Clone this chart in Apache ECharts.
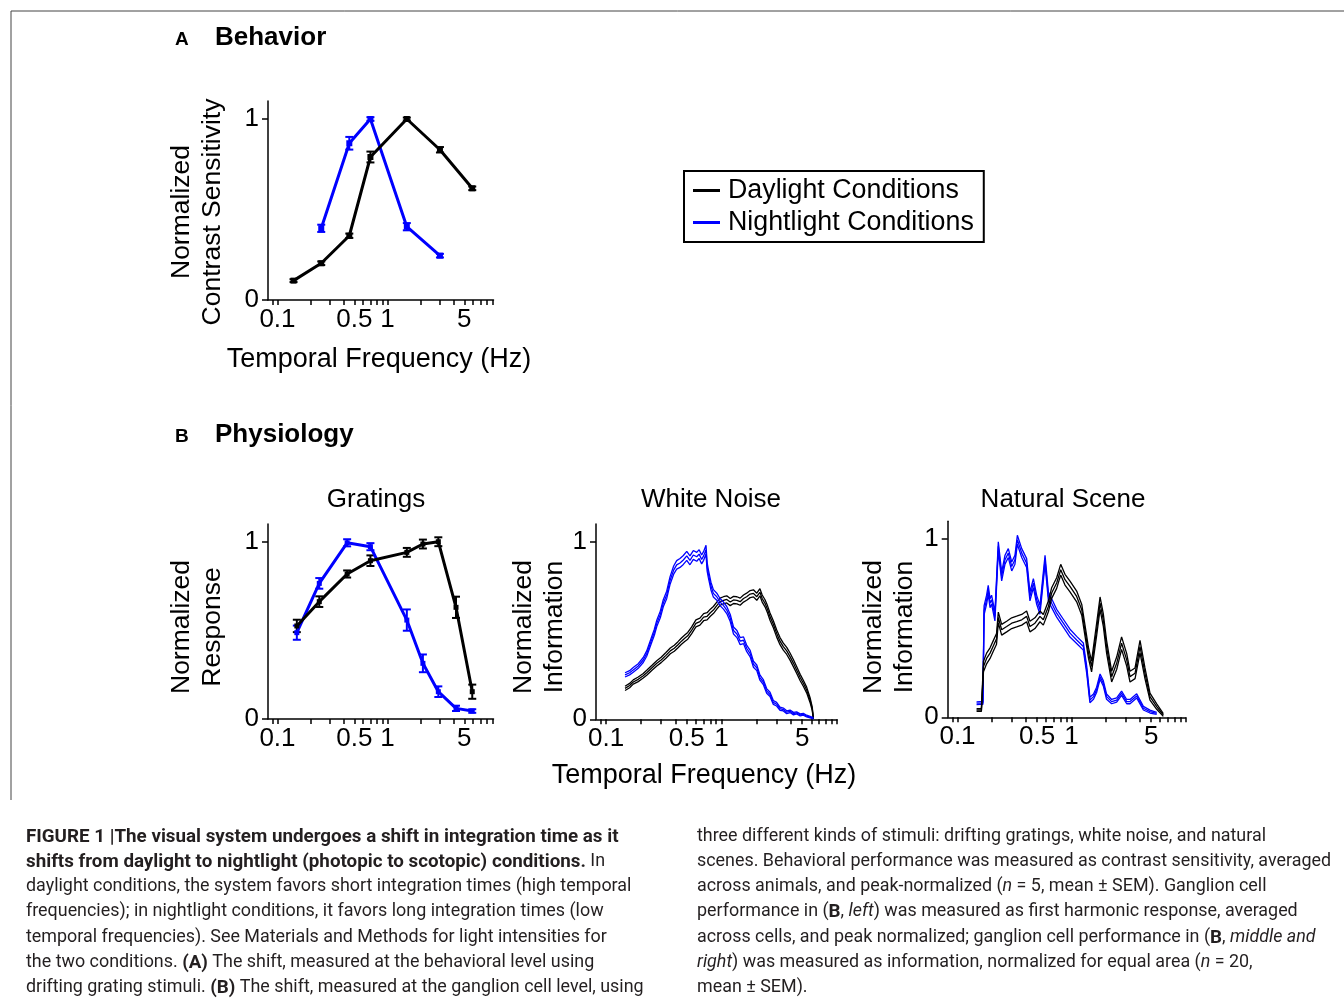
<!DOCTYPE html>
<html>
<head>
<meta charset="utf-8">
<title>Figure 1</title>
<script src="https://cdn.jsdelivr.net/npm/echarts@6/dist/echarts.min.js"></script>
<style>
  html, body { margin: 0; padding: 0; background: #fff; }
  #chart { width: 1344px; height: 1006px; }
</style>
</head>
<body>
<div id="chart"></div>
<script>
// ---- axis ticks (Hz) ----
var tickHz = [0.09, 0.1, 0.2, 0.3, 0.4, 0.5, 0.6, 0.7, 0.8, 0.9, 1, 2, 3, 4, 5, 6, 7, 8, 9, 10];
var labelHz = [0.1, 0.5, 1, 5];
var labelText = ['0.1', '0.5', '1', '5'];
var yTicks = [0, 1];

// ---- A: behavior, contrast sensitivity ----
var behDayHz = [0.14, 0.25, 0.45, 0.7, 1.5, 3.0, 5.9];
var behDay = [0.107, 0.203, 0.355, 0.79, 1.0, 0.83, 0.617];
var behDayErr = [0.008, 0.01, 0.012, 0.03, 0.008, 0.015, 0.01];
var behNightHz = [0.25, 0.45, 0.7, 1.5, 3.0];
var behNight = [0.396, 0.866, 1.0, 0.405, 0.245];
var behNightErr = [0.02, 0.035, 0.01, 0.02, 0.01];

// ---- B left: gratings, first harmonic response ----
var gratHz = [0.15, 0.24, 0.43, 0.7, 1.5, 2.1, 2.9, 4.2, 5.9];
var gratDay = [0.525, 0.662, 0.818, 0.893, 0.94, 0.987, 1.0, 0.63, 0.154];
var gratDayErr = [0.035, 0.03, 0.02, 0.03, 0.025, 0.025, 0.025, 0.06, 0.04];
var gratNight = [0.487, 0.765, 0.994, 0.972, 0.558, 0.314, 0.154, 0.06, 0.045];
var gratNightErr = [0.04, 0.03, 0.02, 0.02, 0.06, 0.05, 0.03, 0.015, 0.01];

// ---- B middle: white noise, information (mean, SEM) ----
var wnNightHz = [0.146, 0.16, 0.172, 0.19, 0.21, 0.225, 0.248, 0.262, 0.275, 0.295,
  0.313, 0.335, 0.358, 0.385, 0.409, 0.437, 0.467, 0.5, 0.533, 0.57,
  0.61, 0.64, 0.673, 0.7, 0.734, 0.75, 0.769, 0.81, 0.85, 0.91,
  0.971, 1.04, 1.11, 1.19, 1.27, 1.36, 1.45, 1.55, 1.65, 1.77,
  1.89, 2.02, 2.15, 2.3, 2.46, 2.63, 2.81, 3.0, 3.21, 3.43,
  3.67, 3.92, 4.2, 4.47, 4.8, 5.11, 5.46, 5.84, 6.24];
var wnNight = [0.25, 0.262, 0.278, 0.30, 0.334, 0.37, 0.447, 0.49, 0.54, 0.59,
  0.653, 0.70, 0.78, 0.84, 0.869, 0.88, 0.897, 0.92, 0.895, 0.925,
  0.915, 0.93, 0.90, 0.92, 0.955, 0.86, 0.82, 0.75, 0.709, 0.69,
  0.66, 0.64, 0.615, 0.57, 0.50, 0.48, 0.44, 0.445, 0.40, 0.37,
  0.31, 0.29, 0.235, 0.21, 0.16, 0.14, 0.095, 0.085, 0.06, 0.055,
  0.04, 0.045, 0.032, 0.036, 0.025, 0.028, 0.018, 0.012, 0.006];
var wnNightSem = [0.012, 0.012, 0.013, 0.013, 0.014, 0.015, 0.016, 0.017, 0.018, 0.019,
  0.02, 0.021, 0.022, 0.023, 0.024, 0.025, 0.025, 0.025, 0.025, 0.025,
  0.025, 0.025, 0.025, 0.025, 0.025, 0.024, 0.023, 0.022, 0.021, 0.02,
  0.02, 0.02, 0.02, 0.02, 0.02, 0.02, 0.02, 0.019, 0.018, 0.018,
  0.017, 0.016, 0.015, 0.014, 0.013, 0.012, 0.011, 0.01, 0.009, 0.008,
  0.008, 0.007, 0.007, 0.006, 0.006, 0.005, 0.005, 0.004, 0.003];
var wnDayHz = [0.146, 0.16, 0.172, 0.19, 0.21, 0.225, 0.25, 0.275, 0.3, 0.33,
  0.36, 0.39, 0.42, 0.45, 0.48, 0.51, 0.55, 0.6, 0.65, 0.7,
  0.75, 0.8, 0.85, 0.91, 0.97, 1.04, 1.11, 1.19, 1.27, 1.36,
  1.45, 1.55, 1.65, 1.77, 1.89, 2.02, 2.15, 2.25, 2.38, 2.5,
  2.63, 2.81, 3.0, 3.21, 3.43, 3.67, 3.92, 4.2, 4.47, 4.8,
  5.11, 5.46, 5.84, 6.1, 6.24];
var wnDay = [0.174, 0.19, 0.21, 0.225, 0.245, 0.262, 0.29, 0.315, 0.334, 0.36,
  0.385, 0.40, 0.42, 0.44, 0.456, 0.47, 0.50, 0.54, 0.55, 0.575,
  0.58, 0.60, 0.615, 0.64, 0.662, 0.67, 0.675, 0.66, 0.672, 0.67,
  0.662, 0.68, 0.69, 0.705, 0.709, 0.69, 0.715, 0.68, 0.653, 0.62,
  0.578, 0.535, 0.484, 0.44, 0.409, 0.385, 0.353, 0.315, 0.278, 0.235,
  0.203, 0.165, 0.109, 0.06, 0.006];
var wnDaySem = [0.012, 0.012, 0.012, 0.013, 0.013, 0.014, 0.014, 0.015, 0.015, 0.016,
  0.016, 0.017, 0.017, 0.018, 0.018, 0.019, 0.019, 0.02, 0.02, 0.02,
  0.02, 0.02, 0.02, 0.02, 0.02, 0.02, 0.02, 0.02, 0.02, 0.02,
  0.02, 0.02, 0.02, 0.02, 0.02, 0.02, 0.02, 0.02, 0.02, 0.02,
  0.02, 0.02, 0.02, 0.02, 0.02, 0.02, 0.02, 0.02, 0.019, 0.018,
  0.017, 0.016, 0.014, 0.01, 0.005];

// ---- B right: natural scene, information (mean, SEM) ----
var nsNightHz = [0.147, 0.158, 0.167, 0.171, 0.18, 0.186, 0.193, 0.199, 0.213, 0.228,
  0.244, 0.261, 0.279, 0.299, 0.319, 0.335, 0.366, 0.404, 0.432, 0.463,
  0.495, 0.529, 0.586, 0.627, 0.67, 0.741, 0.848, 0.97, 1.11, 1.27,
  1.36, 1.45, 1.56, 1.66, 1.78, 1.9, 2.03, 2.25, 2.49, 2.75,
  3.05, 3.26, 3.73, 4.27, 4.88, 5.59];
var nsNight = [0.079, 0.08, 0.08, 0.60, 0.66, 0.715, 0.64, 0.66, 0.566, 0.959,
  0.79, 0.884, 0.921, 0.846, 0.884, 0.996, 0.921, 0.865, 0.678, 0.753,
  0.659, 0.603, 0.884, 0.678, 0.64, 0.584, 0.528, 0.472, 0.434, 0.397,
  0.266, 0.097, 0.116, 0.154, 0.228, 0.191, 0.116, 0.088, 0.097, 0.135,
  0.088, 0.088, 0.12, 0.051, 0.032, 0.022];
var nsNightSem = [0.008, 0.008, 0.008, 0.025, 0.025, 0.025, 0.025, 0.025, 0.025, 0.025,
  0.025, 0.025, 0.025, 0.025, 0.025, 0.025, 0.025, 0.025, 0.025, 0.025,
  0.025, 0.025, 0.025, 0.025, 0.025, 0.022, 0.022, 0.022, 0.02, 0.02,
  0.02, 0.015, 0.015, 0.015, 0.015, 0.015, 0.015, 0.012, 0.012, 0.012,
  0.012, 0.012, 0.012, 0.01, 0.008, 0.006];
var nsDayHz = [0.147, 0.162, 0.169, 0.18, 0.193, 0.206, 0.22, 0.228, 0.244, 0.27,
  0.299, 0.33, 0.366, 0.404, 0.432, 0.478, 0.529, 0.566, 0.627, 0.67,
  0.741, 0.804, 0.877, 0.97, 1.11, 1.23, 1.31, 1.41, 1.5, 1.66,
  1.78, 1.9, 2.03, 2.25, 2.49, 2.75, 3.05, 3.26, 3.61, 3.99,
  4.41, 4.88, 5.59, 6.39];
var nsDay = [0.041, 0.041, 0.285, 0.33, 0.36, 0.40, 0.44, 0.56, 0.491, 0.509,
  0.528, 0.537, 0.547, 0.566, 0.509, 0.528, 0.566, 0.547, 0.622, 0.697,
  0.753, 0.828, 0.772, 0.734, 0.678, 0.603, 0.491, 0.36, 0.285, 0.491,
  0.64, 0.547, 0.397, 0.228, 0.303, 0.416, 0.322, 0.228, 0.247, 0.397,
  0.247, 0.116, 0.06, 0.013];
var nsDaySem = [0.008, 0.008, 0.03, 0.03, 0.03, 0.03, 0.03, 0.03, 0.03, 0.03,
  0.03, 0.03, 0.03, 0.03, 0.03, 0.03, 0.03, 0.03, 0.03, 0.03,
  0.03, 0.03, 0.03, 0.03, 0.03, 0.03, 0.03, 0.03, 0.03, 0.035,
  0.035, 0.035, 0.035, 0.03, 0.035, 0.035, 0.035, 0.03, 0.03, 0.035,
  0.03, 0.02, 0.015, 0.008];

// ---- caption lines ----
var captionLeft = [
  '{b|FIGURE 1 |The visual system undergoes a shift in integration time as it}',
  '{b|shifts from daylight to nightlight (photopic to scotopic) conditions.} In',
  'daylight conditions, the system favors short integration times (high temporal',
  'frequencies); in nightlight conditions, it favors long integration times (low',
  'temporal frequencies). See Materials and Methods for light intensities for',
  'the two conditions. {b|(A)} The shift, measured at the behavioral level using',
  'drifting grating stimuli. {b|(B)} The shift, measured at the ganglion cell level, using'
];
var captionRight = [
  'three different kinds of stimuli: drifting gratings, white noise, and natural',
  'scenes. Behavioral performance was measured as contrast sensitivity, averaged',
  'across animals, and peak-normalized ({i|n} = 5, mean \u00b1 SEM). Ganglion cell',
  'performance in ({b|B}, {i|left}) was measured as first harmonic response, averaged',
  'across cells, and peak normalized; ganglion cell performance in ({b|B}, {i|middle and}',
  '{i|right}) was measured as information, normalized for equal area ({i|n} = 20,',
  'mean \u00b1 SEM).'
];

var BLACK = '#000000';
var BLUE = '#0000ff';
var FONT = '"Liberation Sans", Arial, Helvetica, sans-serif';
var CAP_FONT = 'Roboto, "Liberation Sans", sans-serif';

function lg(f) { return Math.log10(f); }

function labelFor(v) {
  for (var i = 0; i < labelHz.length; i++) {
    if (Math.abs(lg(labelHz[i]) - v) < 1e-3) return labelText[i];
  }
  return '';
}

function xAx(gi, min, max) {
  return {
    type: 'value', gridIndex: gi, min: min, max: max,
    axisLine: { show: true, onZero: false, lineStyle: { color: BLACK, width: 1.5 } },
    axisTick: {
      show: true, length: 5, lineStyle: { color: BLACK, width: 1.5 },
      customValues: tickHz.map(lg).filter(function (v) { return v >= min && v <= max; })
    },
    axisLabel: {
      show: true, customValues: labelHz.map(lg), formatter: labelFor,
      fontSize: 26, fontFamily: FONT, color: BLACK, margin: 7
    },
    splitLine: { show: false }
  };
}

function yAx(gi) {
  return {
    type: 'value', gridIndex: gi, min: 0, max: 1.1,
    axisLine: { show: true, onZero: false, lineStyle: { color: BLACK, width: 1.5 } },
    axisTick: { show: true, length: 6, customValues: yTicks, lineStyle: { color: BLACK, width: 1.5 } },
    axisLabel: {
      show: true, customValues: yTicks, formatter: function (v) { return String(Math.round(v)); },
      fontSize: 26, fontFamily: FONT, color: BLACK, margin: 9
    },
    splitLine: { show: false }
  };
}

function markLine(gi, name, hz, vals, color, size) {
  return {
    type: 'line', name: name, xAxisIndex: gi, yAxisIndex: gi,
    data: hz.map(function (f, i) { return [lg(f), vals[i]]; }),
    symbol: 'rect', symbolSize: size, showSymbol: true,
    lineStyle: { color: color, width: 3 }, itemStyle: { color: color },
    silent: true
  };
}

function errBars(gi, hz, vals, err, color) {
  return {
    type: 'custom', xAxisIndex: gi, yAxisIndex: gi,
    data: hz.map(function (f, i) { return [lg(f), vals[i] - err[i], vals[i] + err[i]]; }),
    encode: { x: 0, y: [1, 2] },
    silent: true,
    renderItem: function (params, api) {
      var x = api.value(0);
      var lo = api.coord([x, api.value(1)]);
      var hi = api.coord([x, api.value(2)]);
      var w = 4;
      var st = { stroke: color, lineWidth: 2 };
      return {
        type: 'group',
        children: [
          { type: 'line', shape: { x1: lo[0], y1: lo[1], x2: hi[0], y2: hi[1] }, style: st },
          { type: 'line', shape: { x1: lo[0] - w, y1: lo[1], x2: lo[0] + w, y2: lo[1] }, style: st },
          { type: 'line', shape: { x1: hi[0] - w, y1: hi[1], x2: hi[0] + w, y2: hi[1] }, style: st }
        ]
      };
    }
  };
}

// mean trace plus the two SEM traces
function traces(gi, hz, mean, sem, color) {
  return [-1, 0, 1].map(function (s) {
    return {
      type: 'line', xAxisIndex: gi, yAxisIndex: gi,
      data: hz.map(function (f, i) { return [lg(f), Math.max(0, mean[i] + s * sem[i])]; }),
      showSymbol: false, symbol: 'none',
      lineStyle: { color: color, width: 1.3 },
      silent: true
    };
  });
}

function txt(x, y, text, size, opts) {
  opts = opts || {};
  return {
    type: 'text', x: x, y: y, rotation: opts.rot || 0, silent: true,
    style: {
      text: text, fill: BLACK, fontSize: size, fontFamily: FONT,
      fontWeight: opts.bold ? 'bold' : 'normal',
      align: opts.align || 'center', verticalAlign: 'middle', lineHeight: opts.lh || size
    }
  };
}

function captionLine(x, y, text) {
  var col = '#231f20';
  return {
    type: 'text', x: x, y: y, silent: true,
    style: {
      text: text, fill: col, fontSize: 17.9, fontFamily: CAP_FONT,
      align: 'left', verticalAlign: 'middle',
      rich: {
        b: { fill: col, fontSize: 18.8, fontFamily: CAP_FONT, fontWeight: 'bold' },
        i: { fill: col, fontSize: 17.9, fontFamily: CAP_FONT, fontStyle: 'italic' }
      }
    }
  };
}

var graphics = [
  { type: 'line', silent: true, shape: { x1: 11, y1: 11, x2: 1344, y2: 11 }, style: { stroke: '#444', lineWidth: 1 } },
  { type: 'line', silent: true, shape: { x1: 11, y1: 11, x2: 11, y2: 800 }, style: { stroke: '#444', lineWidth: 1 } },
  txt(175, 40, 'A', 19, { bold: true, align: 'left' }),
  txt(215, 38, 'Behavior', 26, { bold: true, align: 'left' }),
  txt(175, 437, 'B', 19, { bold: true, align: 'left' }),
  txt(215, 435, 'Physiology', 26, { bold: true, align: 'left' }),
  txt(379, 360, 'Temporal Frequency (Hz)', 27),
  txt(704, 776, 'Temporal Frequency (Hz)', 27),
  txt(376, 500, 'Gratings', 26),
  txt(711, 500, 'White Noise', 26),
  txt(1063, 500, 'Natural Scene', 26),
  txt(197, 212, 'Normalized\nContrast Sensitivity', 26.5, { rot: Math.PI / 2, lh: 31 }),
  txt(197, 627, 'Normalized\nResponse', 26.5, { rot: Math.PI / 2, lh: 31 }),
  txt(539, 627, 'Normalized\nInformation', 26.5, { rot: Math.PI / 2, lh: 31 }),
  txt(889, 627, 'Normalized\nInformation', 26.5, { rot: Math.PI / 2, lh: 31 })
];
var capY = [837, 862, 887, 912, 938, 963, 988];
captionLeft.forEach(function (t, i) { graphics.push(captionLine(26, capY[i], t)); });
captionRight.forEach(function (t, i) { graphics.push(captionLine(697, capY[i], t)); });

var series = [].concat(
  // A
  [errBars(0, behNightHz, behNight, behNightErr, BLUE),
   markLine(0, 'Nightlight Conditions', behNightHz, behNight, BLUE, 6),
   errBars(0, behDayHz, behDay, behDayErr, BLACK),
   markLine(0, 'Daylight Conditions', behDayHz, behDay, BLACK, 6)],
  // gratings
  [errBars(1, gratHz, gratNight, gratNightErr, BLUE),
   markLine(1, 'Gratings night', gratHz, gratNight, BLUE, 5),
   errBars(1, gratHz, gratDay, gratDayErr, BLACK),
   markLine(1, 'Gratings day', gratHz, gratDay, BLACK, 5)],
  // white noise
  traces(2, wnDayHz, wnDay, wnDaySem, BLACK),
  traces(2, wnNightHz, wnNight, wnNightSem, BLUE),
  // natural scene
  traces(3, nsNightHz, nsNight, nsNightSem, BLUE),
  traces(3, nsDayHz, nsDay, nsDaySem, BLACK)
);

var chart = echarts.init(document.getElementById('chart'), null, { renderer: 'canvas' });
chart.setOption({
  animation: false,
  backgroundColor: '#ffffff',
  grid: [
    { left: 268, top: 100.9, width: 225.5, height: 199.1, outerBoundsMode: 'none' },
    { left: 268, top: 524, width: 225.5, height: 195, outerBoundsMode: 'none' },
    { left: 596, top: 523.9, width: 241, height: 195.4, outerBoundsMode: 'none' },
    { left: 947.7, top: 521.2, width: 237.8, height: 196.1, outerBoundsMode: 'none' }
  ],
  xAxis: [xAx(0, -1.086, 0.964), xAx(1, -1.086, 0.964), xAx(2, -1.087, 1.0), xAx(3, -1.086, 1.0)],
  yAxis: [yAx(0), yAx(1), yAx(2), yAx(3)],
  legend: {
    data: ['Daylight Conditions', 'Nightlight Conditions'],
    orient: 'vertical', left: 684, top: 171,
    icon: 'rect', itemWidth: 27, itemHeight: 3, itemGap: 5,
    padding: [6, 10, 6, 9],
    borderColor: BLACK, borderWidth: 2, backgroundColor: '#fff',
    selectedMode: false,
    textStyle: { fontSize: 26.8, fontFamily: FONT, color: BLACK, padding: [0, 0, 0, 3] }
  },
  graphic: graphics,
  series: series
});
</script>
</body>
</html>
